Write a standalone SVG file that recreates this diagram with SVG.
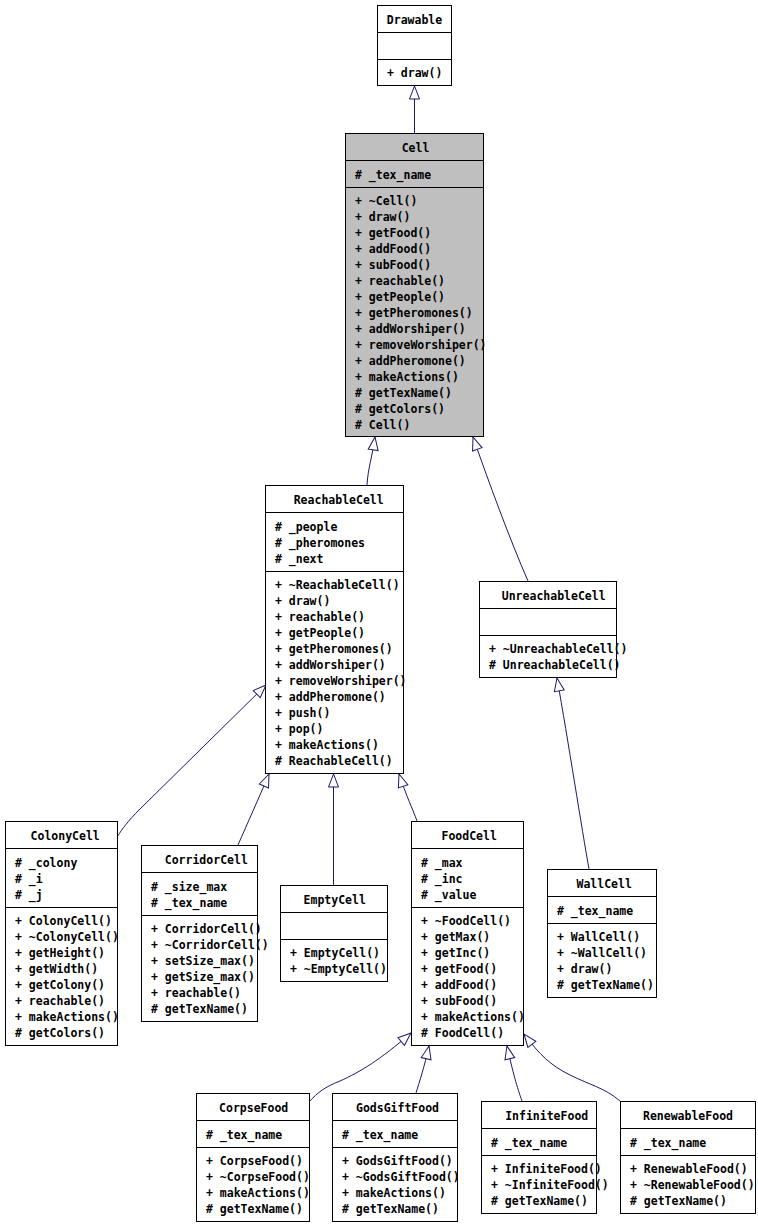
<svg xmlns="http://www.w3.org/2000/svg" width="758" height="1226" viewBox="0 0 758 1226">
<style>
.box{fill:#fff;stroke:#000;stroke-width:1}
.gray{fill:#bfbfbf}
.sep{stroke:#000;stroke-width:1}
.t{font-family:"DejaVu Sans Mono","Liberation Mono",monospace;font-size:11.5px;font-weight:bold;fill:#000}
.c{text-anchor:middle}
.e{fill:none;stroke:#191970;stroke-width:1}
</style>
<defs>
<marker id="a" markerUnits="userSpaceOnUse" markerWidth="16" markerHeight="12" viewBox="-14 -6 16 12" refX="0" refY="0" orient="auto">
<path d="M0,0 L-13,-5 L-13,5 Z" fill="#fff" stroke="#191970" stroke-width="1"/>
</marker>
</defs>
<rect width="758" height="1226" fill="#fff"/>
<g id="connectors">
<path class="e" marker-end="url(#a)" d="M414.5,133 L414.5,86"/>
<path class="e" marker-end="url(#a)" d="M367,485 C368,468 372,458 375,437"/>
<path class="e" marker-end="url(#a)" d="M528,581 C510,540 488,480 473,437"/>
<path class="e" marker-end="url(#a)" d="M117,837 C123,828 127,822 140,809 L266,685"/>
<path class="e" marker-end="url(#a)" d="M238,845 C248,822 258,800 269,774"/>
<path class="e" marker-end="url(#a)" d="M333.5,885 L333.5,774"/>
<path class="e" marker-end="url(#a)" d="M417,821 C413,810 406,795 399,774"/>
<path class="e" marker-end="url(#a)" d="M589,869 C582,830 568,740 557,678"/>
<path class="e" marker-end="url(#a)" d="M309,1102 C318,1092 325,1087 340,1081 C360,1072 380,1060 411,1033"/>
<path class="e" marker-end="url(#a)" d="M416,1093 C420,1080 424,1068 429,1046"/>
<path class="e" marker-end="url(#a)" d="M522,1101 C517,1087 513,1073 507,1046"/>
<path class="e" marker-end="url(#a)" d="M620,1101 C605,1088 590,1085 570,1075 C550,1065 540,1055 524,1034"/>
</g>
<g id="Drawable">
<rect class="box" x="377.5" y="5.5" width="74" height="80"/>
<path class="sep" d="M377.5,32.5 H451.5 M377.5,59.5 H451.5"/>
<text class="t c" x="414.5" y="24">Drawable</text>
<text class="t" x="387" y="77">+ draw()</text>
</g>
<g id="Cell">
<rect class="box gray" x="345.5" y="133.5" width="138" height="303"/>
<path class="sep" d="M345.5,160.5 H483.5 M345.5,187.5 H483.5"/>
<text class="t c" x="415.5" y="152">Cell</text>
<text class="t" x="355" y="179"># _tex_name</text>
<text class="t" x="355" y="205">+ ~Cell()</text>
<text class="t" x="355" y="221">+ draw()</text>
<text class="t" x="355" y="237">+ getFood()</text>
<text class="t" x="355" y="253">+ addFood()</text>
<text class="t" x="355" y="269">+ subFood()</text>
<text class="t" x="355" y="285">+ reachable()</text>
<text class="t" x="355" y="301">+ getPeople()</text>
<text class="t" x="355" y="317">+ getPheromones()</text>
<text class="t" x="355" y="333">+ addWorshiper()</text>
<text class="t" x="355" y="349">+ removeWorshiper()</text>
<text class="t" x="355" y="365">+ addPheromone()</text>
<text class="t" x="355" y="381">+ makeActions()</text>
<text class="t" x="355" y="397"># getTexName()</text>
<text class="t" x="355" y="413"># getColors()</text>
<text class="t" x="355" y="429"># Cell()</text>
</g>
<g id="ReachableCell">
<rect class="box" x="265.5" y="485.5" width="138" height="288"/>
<path class="sep" d="M265.5,512.5 H403.5 M265.5,571.5 H403.5"/>
<text class="t c" x="338.7" y="504">ReachableCell</text>
<text class="t" x="275" y="531"># _people</text>
<text class="t" x="275" y="547"># _pheromones</text>
<text class="t" x="275" y="563"># _next</text>
<text class="t" x="275" y="589">+ ~ReachableCell()</text>
<text class="t" x="275" y="605">+ draw()</text>
<text class="t" x="275" y="621">+ reachable()</text>
<text class="t" x="275" y="637">+ getPeople()</text>
<text class="t" x="275" y="653">+ getPheromones()</text>
<text class="t" x="275" y="669">+ addWorshiper()</text>
<text class="t" x="275" y="685">+ removeWorshiper()</text>
<text class="t" x="275" y="701">+ addPheromone()</text>
<text class="t" x="275" y="717">+ push()</text>
<text class="t" x="275" y="733">+ pop()</text>
<text class="t" x="275" y="749">+ makeActions()</text>
<text class="t" x="275" y="765"># ReachableCell()</text>
</g>
<g id="UnreachableCell">
<rect class="box" x="479.5" y="581.5" width="137" height="96"/>
<path class="sep" d="M479.5,608.5 H616.5 M479.5,635.5 H616.5"/>
<text class="t c" x="553.7" y="600">UnreachableCell</text>
<text class="t" x="489" y="653">+ ~UnreachableCell()</text>
<text class="t" x="489" y="669"># UnreachableCell()</text>
</g>
<g id="ColonyCell">
<rect class="box" x="5.5" y="821.5" width="112" height="224"/>
<path class="sep" d="M5.5,848.5 H117.5 M5.5,907.5 H117.5"/>
<text class="t c" x="65.2" y="840">ColonyCell</text>
<text class="t" x="15" y="867"># _colony</text>
<text class="t" x="15" y="883"># _i</text>
<text class="t" x="15" y="899"># _j</text>
<text class="t" x="15" y="925">+ ColonyCell()</text>
<text class="t" x="15" y="941">+ ~ColonyCell()</text>
<text class="t" x="15" y="957">+ getHeight()</text>
<text class="t" x="15" y="973">+ getWidth()</text>
<text class="t" x="15" y="989">+ getColony()</text>
<text class="t" x="15" y="1005">+ reachable()</text>
<text class="t" x="15" y="1021">+ makeActions()</text>
<text class="t" x="15" y="1037"># getColors()</text>
</g>
<g id="CorridorCell">
<rect class="box" x="141.5" y="845.5" width="116" height="176"/>
<path class="sep" d="M141.5,872.5 H257.5 M141.5,915.5 H257.5"/>
<text class="t c" x="206.3" y="864">CorridorCell</text>
<text class="t" x="151" y="891"># _size_max</text>
<text class="t" x="151" y="907"># _tex_name</text>
<text class="t" x="151" y="933">+ CorridorCell()</text>
<text class="t" x="151" y="949">+ ~CorridorCell()</text>
<text class="t" x="151" y="965">+ setSize_max()</text>
<text class="t" x="151" y="981">+ getSize_max()</text>
<text class="t" x="151" y="997">+ reachable()</text>
<text class="t" x="151" y="1013"># getTexName()</text>
</g>
<g id="EmptyCell">
<rect class="box" x="280.5" y="885.5" width="107" height="96"/>
<path class="sep" d="M280.5,912.5 H387.5 M280.5,939.5 H387.5"/>
<text class="t c" x="334.7" y="904">EmptyCell</text>
<text class="t" x="290" y="957">+ EmptyCell()</text>
<text class="t" x="290" y="973">+ ~EmptyCell()</text>
</g>
<g id="FoodCell">
<rect class="box" x="411.5" y="821.5" width="112" height="224"/>
<path class="sep" d="M411.5,848.5 H523.5 M411.5,907.5 H523.5"/>
<text class="t c" x="469.2" y="840">FoodCell</text>
<text class="t" x="421" y="867"># _max</text>
<text class="t" x="421" y="883"># _inc</text>
<text class="t" x="421" y="899"># _value</text>
<text class="t" x="421" y="925">+ ~FoodCell()</text>
<text class="t" x="421" y="941">+ getMax()</text>
<text class="t" x="421" y="957">+ getInc()</text>
<text class="t" x="421" y="973">+ getFood()</text>
<text class="t" x="421" y="989">+ addFood()</text>
<text class="t" x="421" y="1005">+ subFood()</text>
<text class="t" x="421" y="1021">+ makeActions()</text>
<text class="t" x="421" y="1037"># FoodCell()</text>
</g>
<g id="WallCell">
<rect class="box" x="547.5" y="869.5" width="109" height="128"/>
<path class="sep" d="M547.5,896.5 H656.5 M547.5,923.5 H656.5"/>
<text class="t c" x="604.2" y="888">WallCell</text>
<text class="t" x="557" y="915"># _tex_name</text>
<text class="t" x="557" y="941">+ WallCell()</text>
<text class="t" x="557" y="957">+ ~WallCell()</text>
<text class="t" x="557" y="973">+ draw()</text>
<text class="t" x="557" y="989"># getTexName()</text>
</g>
<g id="CorpseFood">
<rect class="box" x="196.5" y="1093.5" width="113" height="128"/>
<path class="sep" d="M196.5,1120.5 H309.5 M196.5,1147.5 H309.5"/>
<text class="t c" x="253.7" y="1112">CorpseFood</text>
<text class="t" x="206" y="1139"># _tex_name</text>
<text class="t" x="206" y="1165">+ CorpseFood()</text>
<text class="t" x="206" y="1181">+ ~CorpseFood()</text>
<text class="t" x="206" y="1197">+ makeActions()</text>
<text class="t" x="206" y="1213"># getTexName()</text>
</g>
<g id="GodsGiftFood">
<rect class="box" x="332.5" y="1093.5" width="125" height="128"/>
<path class="sep" d="M332.5,1120.5 H457.5 M332.5,1147.5 H457.5"/>
<text class="t c" x="397.5" y="1112">GodsGiftFood</text>
<text class="t" x="342" y="1139"># _tex_name</text>
<text class="t" x="342" y="1165">+ GodsGiftFood()</text>
<text class="t" x="342" y="1181">+ ~GodsGiftFood()</text>
<text class="t" x="342" y="1197">+ makeActions()</text>
<text class="t" x="342" y="1213"># getTexName()</text>
</g>
<g id="InfiniteFood">
<rect class="box" x="481.5" y="1101.5" width="115" height="112"/>
<path class="sep" d="M481.5,1128.5 H596.5 M481.5,1155.5 H596.5"/>
<text class="t c" x="546.7" y="1120">InfiniteFood</text>
<text class="t" x="491" y="1147"># _tex_name</text>
<text class="t" x="491" y="1173">+ InfiniteFood()</text>
<text class="t" x="491" y="1189">+ ~InfiniteFood()</text>
<text class="t" x="491" y="1205"># getTexName()</text>
</g>
<g id="RenewableFood">
<rect class="box" x="620.5" y="1101.5" width="135" height="112"/>
<path class="sep" d="M620.5,1128.5 H755.5 M620.5,1155.5 H755.5"/>
<text class="t c" x="688" y="1120">RenewableFood</text>
<text class="t" x="630" y="1147"># _tex_name</text>
<text class="t" x="630" y="1173">+ RenewableFood()</text>
<text class="t" x="630" y="1189">+ ~RenewableFood()</text>
<text class="t" x="630" y="1205"># getTexName()</text>
</g>
</svg>
